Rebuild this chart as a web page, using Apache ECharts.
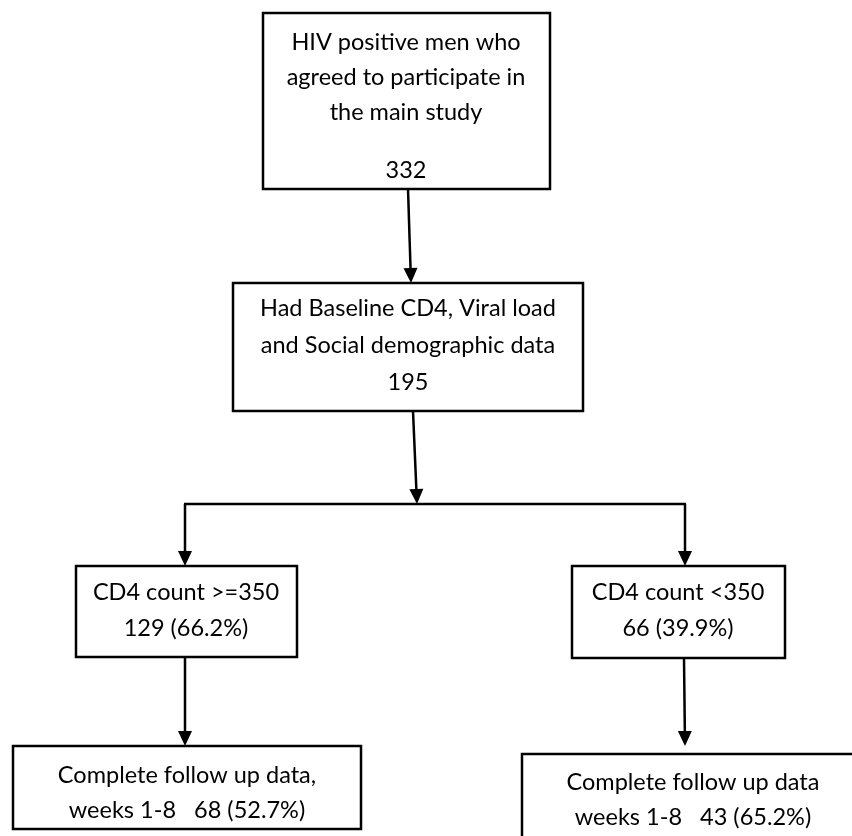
<!DOCTYPE html>
<html>
<head>
<meta charset="utf-8">
<script src="https://cdn.jsdelivr.net/npm/echarts@6/dist/echarts.min.js"></script>
<style>
html,body{margin:0;padding:0;background:#fff;}
#chart{width:852px;height:836px;}
</style>
</head>
<body>
<div id="chart"></div>
<script>
// ---- content (text of each box) ----
const boxText = [
  ["HIV positive men who", "agreed to participate in", "the main study", "332"],
  ["Had Baseline CD4, Viral load", "and Social demographic data", "195"],
  ["CD4 count >=350", "129 (66.2%)"],
  ["CD4 count <350", "66 (39.9%)"],
  ["Complete follow up data,", "weeks 1-8   68 (52.7%)"],
  ["Complete follow up data", "weeks 1-8   43 (65.2%)"]
];

// ---- layout (in axis units; canvas-sized axes) ----
const boxRects = [
  [263, 13, 550, 189],
  [233, 283, 583, 411],
  [76, 566, 297, 657],
  [572, 566, 785, 658],
  [13, 746, 361, 829],
  [522, 754, 864, 860]
];
const textCenterX = [406, 408, 186, 678, 187, 693];
const textLineY = [
  [42, 77, 112, 170],
  [308, 345, 382],
  [592, 628],
  [592, 628],
  [775, 810],
  [782, 817]
];
// connectors: x1, y1, x2, y2, hasArrow
const connectors = [
  [408, 189, 411, 283, 1],
  [413, 411, 417, 504, 1],
  [184, 504, 686, 504, 0],
  [185, 504, 185, 566, 1],
  [685, 504, 685, 566, 1],
  [185, 657, 185, 746, 1],
  [684, 658, 685, 746, 1]
];

const textData = [];
boxText.forEach(function (lines, b) {
  lines.forEach(function (t, i) {
    textData.push([textCenterX[b], textLineY[b][i], t]);
  });
});

const FONT = 'Lato';
const chart = echarts.init(document.getElementById('chart'), null, {renderer: 'canvas'});
chart.setOption({
  backgroundColor: '#ffffff',
  animation: false,
  grid: {left: 0, right: 0, top: 0, bottom: 0},
  xAxis: {type: 'value', min: 0, max: 852, show: false},
  yAxis: {type: 'value', min: 0, max: 836, inverse: true, show: false},
  series: [
    {
      type: 'custom',
      clip: true,
      data: boxRects,
      renderItem: function (params, api) {
        const p1 = api.coord([api.value(0), api.value(1)]);
        const p2 = api.coord([api.value(2), api.value(3)]);
        return {
          type: 'rect',
          shape: {x: Math.min(p1[0], p2[0]), y: Math.min(p1[1], p2[1]),
                  width: Math.abs(p2[0] - p1[0]), height: Math.abs(p2[1] - p1[1])},
          style: {fill: '#ffffff', stroke: '#000000', lineWidth: 2.5}
        };
      }
    },
    {
      type: 'custom',
      clip: false,
      data: connectors,
      renderItem: function (params, api) {
        const a = api.coord([api.value(0), api.value(1)]);
        const b = api.coord([api.value(2), api.value(3)]);
        const children = [];
        const dx = b[0] - a[0], dy = b[1] - a[1];
        const len = Math.sqrt(dx * dx + dy * dy);
        const ux = dx / len, uy = dy / len;
        const hasArrow = api.value(4) === 1;
        const headL = 15, headW = 7;
        const end = hasArrow ? [b[0] - ux * (headL - 1), b[1] - uy * (headL - 1)] : b;
        children.push({
          type: 'line',
          shape: {x1: a[0], y1: a[1], x2: end[0], y2: end[1]},
          style: {stroke: '#000000', lineWidth: 2.5}
        });
        if (hasArrow) {
          const bx = b[0] - ux * headL, by = b[1] - uy * headL;
          children.push({
            type: 'polygon',
            shape: {points: [[b[0], b[1]], [bx - uy * headW, by + ux * headW], [bx + uy * headW, by - ux * headW]]},
            style: {fill: '#000000'}
          });
        }
        return {type: 'group', children: children};
      }
    },
    {
      type: 'custom',
      clip: false,
      data: textData,
      renderItem: function (params, api) {
        const p = api.coord([api.value(0), api.value(1)]);
        return {
          type: 'text',
          x: p[0], y: p[1],
          style: {
            text: textData[params.dataIndex][2],
            fill: '#000000',
            font: '23.5px ' + FONT,
            align: 'center',
            verticalAlign: 'middle'
          }
        };
      }
    }
  ]
});
</script>
</body>
</html>
